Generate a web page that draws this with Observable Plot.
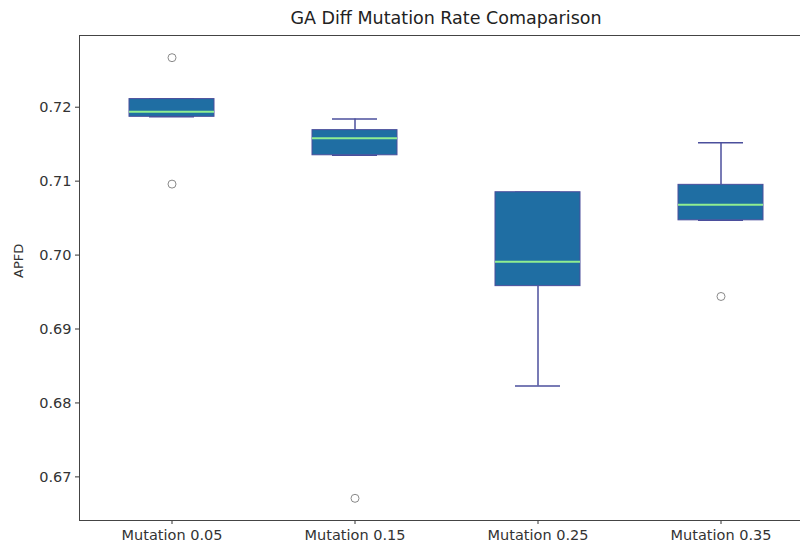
<!DOCTYPE html>
<html>
<head>
<meta charset="utf-8">
<script src="https://cdn.jsdelivr.net/npm/d3@7"></script>
<script src="https://cdn.jsdelivr.net/npm/@observablehq/plot@0.6"></script>
<style>
  html, body { margin: 0; padding: 0; background: #fff; }
  #wrap { width: 800px; height: 550px; overflow: hidden; position: relative; }
  #inner { width: 813px; }
  #title { height: 27px; padding-top: 3px; padding-left: 79px; line-height: 30px; text-align: center;
           font-family: "DejaVu Sans", sans-serif; font-size: 17.5px; color: #222; }
  svg { display: block; }
</style>
</head>
<body>
<div id="wrap"><div id="inner">
  <div id="title">GA Diff Mutation Rate Comaparison</div>
  <div id="chart"></div>
</div></div>
<script>
const categories = ["Mutation 0.05", "Mutation 0.15", "Mutation 0.25", "Mutation 0.35"];
const q1          = [0.7187, 0.7135, 0.6958, 0.7047];
const median      = [0.7194, 0.7158, 0.6991, 0.7068];
const q3          = [0.7211, 0.7169, 0.7085, 0.7095];
const whiskerLow  = [0.7187, 0.7135, 0.6823, 0.7047];
const whiskerHigh = [0.7211, 0.7184, 0.7085, 0.7152];
const outlierCategory = ["Mutation 0.05", "Mutation 0.05", "Mutation 0.15", "Mutation 0.35"];
const outlierValue    = [0.7267, 0.7096, 0.6671, 0.6944];
const yTicks = [0.67, 0.68, 0.69, 0.70, 0.71, 0.72];

const boxes = categories.map((c, i) => ({
  cat: c, q1: q1[i], med: median[i], q3: q3[i], lo: whiskerLow[i], hi: whiskerHigh[i]
}));
const outliers = outlierCategory.map((c, i) => ({cat: c, v: outlierValue[i]}));

const boxFill = "#1f6ea3";
const edge = "#4b4f9c";

const chart = Plot.plot({
  width: 813,
  height: 520,
  marginLeft: 79,
  marginRight: 1,
  marginTop: 5,
  marginBottom: 30,
  style: {fontFamily: "DejaVu Sans, sans-serif", fontSize: "14.5px", color: "#333", background: "#fff"},
  x: {domain: categories, padding: 0, label: null},
  y: {domain: [0.6641, 0.7297], label: null},
  marks: [
    Plot.ruleX(boxes, {x: "cat", y1: "q3", y2: "hi", stroke: edge, strokeWidth: 1.5}),
    Plot.ruleX(boxes, {x: "cat", y1: "lo", y2: "q1", stroke: edge, strokeWidth: 1.5}),
    Plot.tickY(boxes, {x: "cat", y: "hi", stroke: edge, strokeWidth: 1.5, inset: 69}),
    Plot.tickY(boxes, {x: "cat", y: "lo", stroke: edge, strokeWidth: 1.5, inset: 69}),
    Plot.barY(boxes, {x: "cat", y1: "q1", y2: "q3", fill: boxFill, stroke: edge, strokeWidth: 1, insetLeft: 49, insetRight: 49}),
    Plot.tickY(boxes, {x: "cat", y: "med", stroke: "#90ee90", strokeWidth: 2, inset: 49}),
    Plot.dot(outliers, {x: "cat", y: "v", r: 4, stroke: "#8a8a8a", fill: "none", strokeWidth: 1}),
    Plot.axisY({ticks: yTicks, tickFormat: d3.format(".2f"), tickSize: 4, tickPadding: 4, label: null, stroke: "#333"}),
    Plot.axisX({tickSize: 4, tickPadding: 5, label: null, stroke: "#333"}),
    Plot.text(["APFD"], {frameAnchor: "left", dx: -61, rotate: -90, fontSize: 13, fill: "#333"}),
    Plot.frame({stroke: "#444"})
  ]
});
document.getElementById("chart").appendChild(chart);
</script>
</body>
</html>
